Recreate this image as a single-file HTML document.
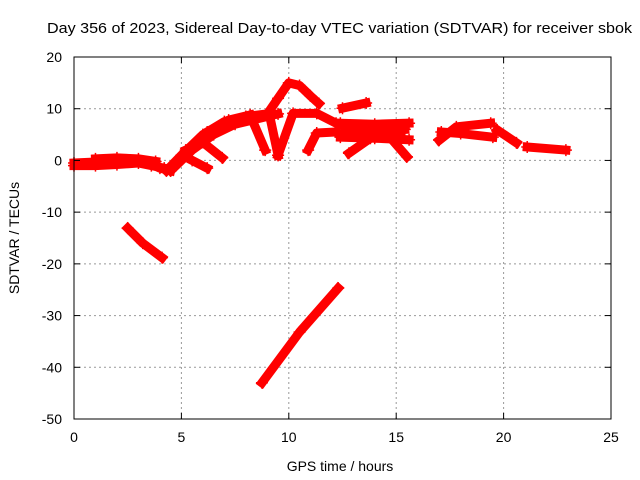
<!DOCTYPE html>
<html><head><meta charset="utf-8"><style>
body{margin:0;background:#fff}
svg{font-family:"Liberation Sans",sans-serif;display:block}
</style></head><body>
<svg id="chart" width="640" height="480">
<text x="47" y="33" font-size="15" textLength="585" lengthAdjust="spacingAndGlyphs">Day 356 of 2023, Sidereal Day-to-day VTEC variation (SDTVAR) for receiver sbok</text>
<text x="340" y="471" font-size="14" text-anchor="middle">GPS time / hours</text>
<text transform="translate(19,238) rotate(-90)" font-size="14" text-anchor="middle">SDTVAR / TECUs</text>
<g id="grid"></g><g id="marks"></g>
<rect x="74" y="57" width="537" height="362" fill="none" stroke="#000"/>
<g id="ticks"></g>
</svg>
<script>
const xTicks=[0,5,10,15,20,25];
const yTicks=[20,10,0,-10,-20,-30,-40,-50];
// tracks: [hours, TECU] pairs
const trackHours=[
[0,1,2,3,3.5,4,4.5],
[0,1,2,3,3.6,4.2],
[1,2,3,3.8],
[4.3,5,6,7,8,9,9.5,10,10.5,11,11.4],
[4.5,5.5,6.5,7.5,8.5,9.5],
[4.6,5.3,6.2,7.2,8.2],
[5.2,6,6.9],
[5.5,6.2],
[8.3,8.9],
[9.1,9.5],
[9.5,10.2,11.3,12.2],
[10.9,11.3,12.2],
[12.5,13.6],
[12.4,14,15.6],
[12.4,14,15.6],
[12.6,14,15.4],
[12.8,13.8,15.2],
[14.6,15.5],
[17,17.8,19.4],
[17.1,18,19.5],
[19.7,20.6],
[21.1,22.9],
[2.5,3.2,4.1],
[8.75,10.5,12.3]];
const trackValues=[
[-0.5,-0.3,0,0,-0.5,-1.5,-2],
[-1,-1,-0.8,-0.5,-1,-1.5],
[0.3,0.5,0.3,-0.2],
[-2,1,5,7.5,8.5,9,12,15,14.5,12.5,11],
[-2,2,5,7,8,9],
[-1.5,2,5.5,7.8,8.8],
[2,3.5,0.5],
[0,-1.5],
[7.8,2],
[8.8,1],
[1,9.1,9.1,7.2],
[2,5.3,5.5],
[10.1,11.1],
[7.2,7,7.2],
[4.5,4.3,4],
[5.8,5.6,6],
[1.4,4.3,5.3],
[5,0.7],
[3.9,6.5,7.2],
[5.5,5.2,4.5],
[5.9,3.4],
[2.6,2],
[-13.1,-16,-18.8],
[-43,-33.2,-24.7]];
const X=h=>74+h*537/25, Y=v=>57+(20-v)*362/70;
const NS="http://www.w3.org/2000/svg";
const mk=(t,a,p)=>{const e=document.createElementNS(NS,t);for(const k in a)e.setAttribute(k,a[k]);p.appendChild(e);return e;};
const grid=document.getElementById('grid'),ticks=document.getElementById('ticks'),marks=document.getElementById('marks');
xTicks.forEach(t=>{
 if(t>0&&t<25){const g=mk('line',{x1:X(t),x2:X(t),y1:57,y2:419,stroke:'#999','stroke-dasharray':'2,3'},grid);
 
 }
 mk('line',{x1:X(t),x2:X(t),y1:419,y2:413,stroke:'#000'},ticks);mk('line',{x1:X(t),x2:X(t),y1:57,y2:63,stroke:'#000'},ticks);
 const l=mk('text',{x:X(t),y:442,'font-size':14,'text-anchor':'middle'},ticks);l.textContent=t;
 
 
});
yTicks.forEach(t=>{
 if(t<20&&t>-50){const g=mk('line',{x1:74,x2:611,y1:Y(t),y2:Y(t),stroke:'#999','stroke-dasharray':'2,3'},grid);
 
 }
 mk('line',{x1:74,x2:80,y1:Y(t),y2:Y(t),stroke:'#000'},ticks);mk('line',{x1:611,x2:605,y1:Y(t),y2:Y(t),stroke:'#000'},ticks);
 const l=mk('text',{x:62,y:Y(t)+5,'font-size':14,'text-anchor':'end'},ticks);l.textContent=t;
 
 
});
trackHours.forEach((hs,i)=>{
 const pts=hs.map((h,j)=>X(h)+','+Y(trackValues[i][j])).join(' ');
 const p=mk('polyline',{points:pts,fill:'none',stroke:'#f00','stroke-width':9,'stroke-linejoin':'round','stroke-linecap':'square'},marks);
 
 
 hs.forEach((h,j)=>{const x=X(h),y=Y(trackValues[i][j]);
  const m=mk('path',{d:`M${x-6},${y}h12M${x},${y-6}v12`,stroke:'#f00','stroke-width':1.5},marks);
  
  });
});
</script>
</body></html>
